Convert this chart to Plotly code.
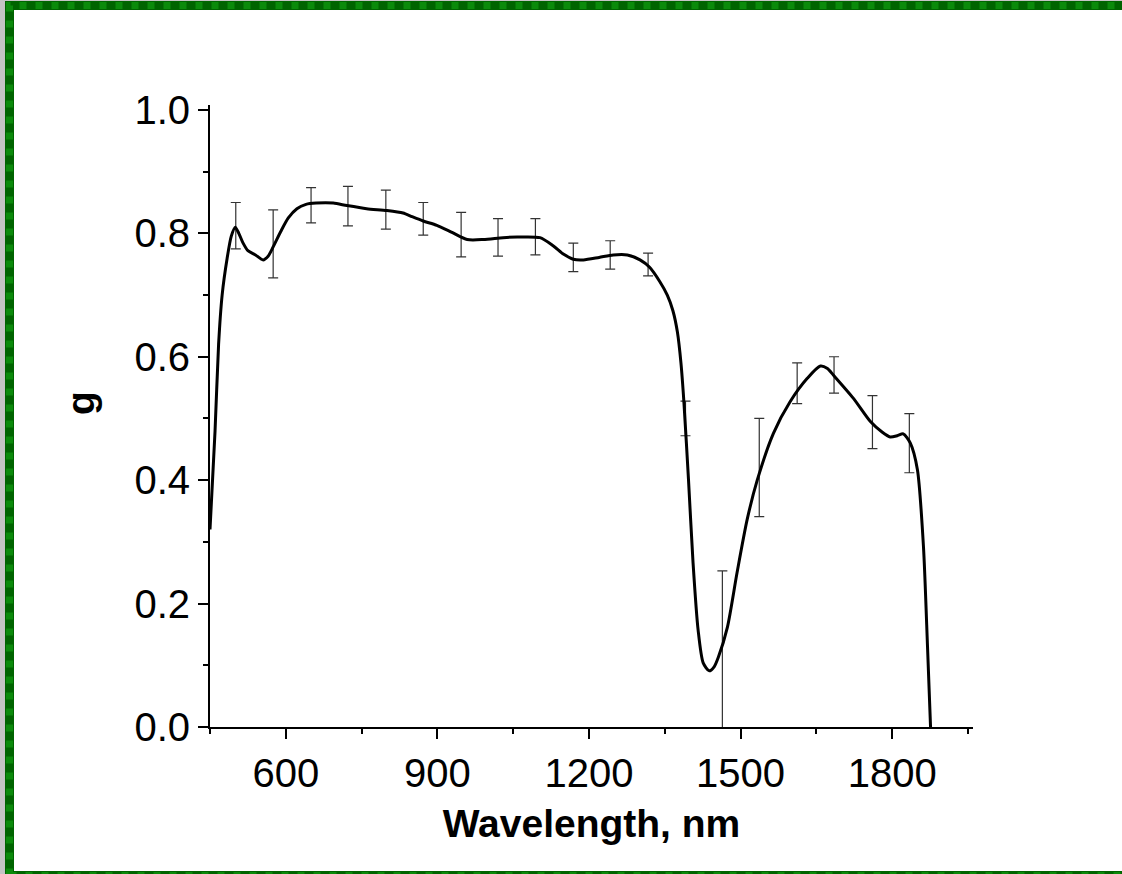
import plotly.graph_objects as go

# ---- data ----
wavelength = [450, 460, 467, 474, 484, 492, 500, 507, 515, 525, 540, 555, 565, 575, 590, 605,
              622, 640, 660, 694, 721, 760, 800, 832, 850, 872, 899, 930, 959, 991, 1030, 1058,
              1103, 1129, 1150, 1169, 1189, 1220, 1248, 1276, 1301, 1320, 1340, 1355, 1366, 1375,
              1382, 1388, 1397, 1406, 1416, 1426, 1438, 1448, 1456, 1474, 1493, 1513, 1533, 1565,
              1598, 1632, 1658, 1672, 1684, 1723, 1757, 1780, 1796, 1810, 1822, 1836, 1850, 1862,
              1870, 1876]
g_values = [0.32, 0.48, 0.62, 0.70, 0.76, 0.795, 0.810, 0.80, 0.785, 0.772, 0.765, 0.757, 0.763,
            0.778, 0.803, 0.825, 0.840, 0.847, 0.849, 0.849, 0.845, 0.840, 0.837, 0.833, 0.827,
            0.820, 0.813, 0.801, 0.790, 0.790, 0.793, 0.794, 0.793, 0.780, 0.766, 0.758, 0.757,
            0.761, 0.765, 0.765, 0.757, 0.745, 0.722, 0.700, 0.675, 0.640, 0.59, 0.525, 0.40,
            0.266, 0.157, 0.104, 0.091, 0.098, 0.113, 0.162, 0.25, 0.336, 0.40, 0.476, 0.527,
            0.565, 0.585, 0.581, 0.570, 0.533, 0.495, 0.478, 0.470, 0.472, 0.475, 0.46, 0.417,
            0.292, 0.13, 0.0]

err_x = [501, 575, 650, 723, 798, 872, 947, 1020, 1094, 1169, 1242, 1317, 1391, 1464, 1537,
         1612, 1685, 1761, 1834]
err_hi = [0.850, 0.838, 0.874, 0.876, 0.870, 0.850, 0.834, 0.824, 0.824, 0.784, 0.788, 0.768,
          0.528, 0.253, 0.500, 0.590, 0.600, 0.537, 0.508]
err_lo = [0.775, 0.728, 0.817, 0.812, 0.807, 0.797, 0.762, 0.763, 0.765, 0.738, 0.742, 0.731,
          0.472, -0.06, 0.341, 0.524, 0.541, 0.451, 0.412]

x_ticks = [600, 900, 1200, 1500, 1800]
y_ticks = [0.0, 0.2, 0.4, 0.6, 0.8, 1.0]
y_ticklabels = ["0.0", "0.2", "0.4", "0.6", "0.8", "1.0"]

# ---- layout geometry (pixels) ----
W, H = 1122, 874
ML, MR, MT, MB = 210, 149, 105, 147
PW, PH = W - ML - MR, H - MT - MB


def px_x(p):
    return (p - ML) / PW


def px_y(p):
    return (H - MB - p) / PH


err_mid = [(a + b) / 2 for a, b in zip(err_hi, err_lo)]
err_half = [(a - b) / 2 for a, b in zip(err_hi, err_lo)]

fig = go.Figure()
fig.add_trace(go.Scatter(
    x=err_x, y=err_mid, mode="markers",
    marker=dict(size=1, color="rgba(0,0,0,0)"),
    error_y=dict(type="data", array=err_half, visible=True, color="#333333",
                 thickness=1.2, width=5),
    showlegend=False, hoverinfo="skip", cliponaxis=True))
fig.add_trace(go.Scatter(
    x=wavelength, y=g_values, mode="lines",
    line=dict(color="black", width=3, shape="spline", smoothing=0.7),
    showlegend=False, cliponaxis=True))

font = "Liberation Sans, Arial, sans-serif"

shapes = [
    dict(type="rect", xref="paper", yref="paper", x0=px_x(0), x1=px_x(5), y0=px_y(874), y1=px_y(0),
         fillcolor="#c4c4c4", line=dict(width=0), layer="above"),
    dict(type="rect", xref="paper", yref="paper", x0=px_x(0), x1=px_x(1130), y0=px_y(1), y1=px_y(0),
         fillcolor="#c4c4c4", line=dict(width=0), layer="above"),
    dict(type="rect", xref="paper", yref="paper", x0=px_x(9.5), x1=px_x(1135), y0=px_y(875.5),
         y1=px_y(5.5), line=dict(color="#006400", width=9), fillcolor="rgba(0,0,0,0)", layer="above"),
    dict(type="rect", xref="paper", yref="paper", x0=px_x(9.5), x1=px_x(1135), y0=px_y(875.5),
         y1=px_y(5.5), line=dict(color="#0b8a0b", width=7, dash="7px,9px"),
         fillcolor="rgba(0,0,0,0)", layer="above"),
]

annotations = [
    dict(text="<b>g</b>", xref="paper", yref="paper", x=px_x(80), y=px_y(403),
         xanchor="center", yanchor="middle", textangle=-90, showarrow=False,
         font=dict(size=39, family=font, color="black")),
]

fig.update_layout(
    width=W, height=H,
    margin=dict(l=ML, r=MR, t=MT, b=MB, pad=0),
    paper_bgcolor="white", plot_bgcolor="white",
    font=dict(family=font, color="black"),
    shapes=shapes, annotations=annotations,
    xaxis=dict(range=[450, 1960], tickvals=x_ticks, ticktext=[str(v) for v in x_ticks],
               showgrid=False, zeroline=False, showline=True, linecolor="black", linewidth=2,
               ticks="outside", ticklen=10, tickwidth=2, tickcolor="black",
               tickfont=dict(size=40, family=font),
               minor=dict(dtick=150, tick0=450, ticks="outside", ticklen=5, tickwidth=2,
                          tickcolor="black", showgrid=False),
               title=dict(text="<b>Wavelength, nm</b>", font=dict(size=39, family=font), standoff=16)),
    yaxis=dict(range=[0, 1.008], tickvals=y_ticks, ticktext=y_ticklabels,
               showgrid=False, zeroline=False, showline=True, linecolor="black", linewidth=2,
               ticks="outside", ticklen=10, tickwidth=2, tickcolor="black",
               tickfont=dict(size=40, family=font),
               minor=dict(dtick=0.1, tick0=0, ticks="outside", ticklen=5, tickwidth=2,
                          tickcolor="black", showgrid=False)),
)

fig.write_html("out.html")
